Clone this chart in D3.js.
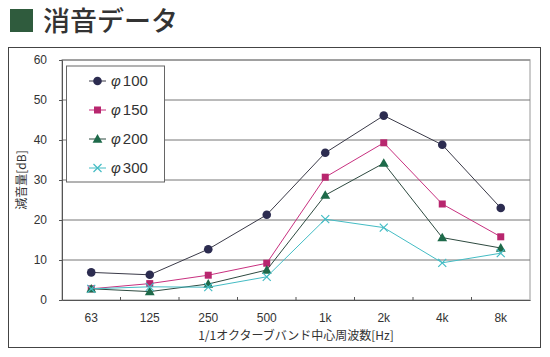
<!DOCTYPE html>
<html><head><meta charset="utf-8">
<script src="https://cdn.jsdelivr.net/npm/d3@7"></script>
<style>body{margin:0;background:#fff;}svg{display:block;font-family:"Liberation Sans",Arial,"Noto Sans CJK JP",sans-serif;}</style>
</head><body><svg id="c" width="550" height="357"></svg>
<script>
const categories = ["63","125","250","500","1k","2k","4k","8k"];
const seriesNames = ["φ100","φ150","φ200","φ300"];
const phi100 = [6.9, 6.3, 12.7, 21.3, 36.8, 46.1, 38.8, 23.0];
const phi150 = [2.8, 4.1, 6.2, 9.2, 30.7, 39.3, 24.0, 15.8];
const phi200 = [2.8, 2.1, 4.0, 7.5, 26.2, 34.2, 15.6, 13.0];
const phi300 = [2.8, 3.3, 3.2, 5.8, 20.2, 18.1, 9.3, 11.7];
const yTicks = [0,10,20,30,40,50,60];
const titleText = "消音データ";
const yTitle = "減音量[dB]";
const xTitle = "1/1オクターブバンド中心周波数[Hz]";

const svg = d3.select("#c");
const L=62, R=530, T=60, B=300;
const x = d3.scaleBand().domain(categories).range([L,R]);
const y = d3.scaleLinear().domain([0,60]).range([B,T]);

// title
svg.append("rect").attr("x",10).attr("y",9).attr("width",23).attr("height",23).attr("fill","#2f5b3d");
svg.append("text").attr("x",43).attr("y",31).attr("font-size",27).attr("font-weight",500).attr("fill","#333")
  .attr("font-family","'Noto Sans CJK JP',sans-serif").text(titleText);

// outer frame
svg.append("rect").attr("x",8.5).attr("y",47.5).attr("width",532).attr("height",300)
  .attr("fill","#fff").attr("stroke","#444").attr("stroke-width",1);

// plot area border
svg.append("rect").attr("x",L).attr("y",T).attr("width",R-L).attr("height",B-T)
  .attr("fill","#fff").attr("stroke","#bbb").attr("stroke-width",1.5);

// gridlines
svg.append("g").selectAll("line").data(yTicks.filter(d=>d>0)).join("line")
  .attr("x1",L).attr("x2",R).attr("y1",d=>y(d)).attr("y2",d=>y(d))
  .attr("stroke","#777").attr("stroke-width",1);

// y axis
const ya = svg.append("g").attr("transform",`translate(${L},0)`)
  .call(d3.axisLeft(y).tickValues(yTicks).tickSize(3).tickPadding(12));
ya.select(".domain").attr("stroke","#555");
ya.selectAll(".tick line").attr("stroke","#555");
ya.selectAll("text").attr("font-size",12).attr("fill","#333");

// x axis
const xa = svg.append("g").attr("transform",`translate(0,${B})`)
  .call(d3.axisBottom(x).tickSize(0).tickPadding(13));
xa.select(".domain").attr("stroke","#555");
xa.selectAll("text").attr("font-size",12).attr("fill","#333");
// boundary ticks (inside)
svg.append("g").selectAll("line").data(categories.slice(1)).join("line")
  .attr("x1",d=>x(d)).attr("x2",d=>x(d)).attr("y1",B).attr("y2",B-3)
  .attr("stroke","#555");

// axis titles
svg.append("text").attr("x",296).attr("y",340).attr("text-anchor","middle")
  .attr("font-size",12).attr("fill","#333")
  .attr("font-family","'Noto Sans CJK JP',sans-serif").text(xTitle);
svg.append("text").attr("transform","translate(26,180) rotate(-90)").attr("text-anchor","middle")
  .attr("font-size",12).attr("fill","#333")
  .attr("font-family","'Noto Sans CJK JP',sans-serif").text(yTitle);

const series = [
  {name:seriesNames[0], vals:phi100, line:"#3a3a48", fill:"#2c2c50", shape:"circle"},
  {name:seriesNames[1], vals:phi150, line:"#c8307f", fill:"#b8266e", shape:"square"},
  {name:seriesNames[2], vals:phi200, line:"#2e4a40", fill:"#1e6a4a", shape:"triangle"},
  {name:seriesNames[3], vals:phi300, line:"#44bcc4", fill:"#44bcc4", shape:"x"}
];
const cx = c => x(c)+x.bandwidth()/2;
function marker(g, s, px, py){
  if(s.shape==="circle") g.append("circle").attr("cx",px).attr("cy",py).attr("r",4.3).attr("fill",s.fill);
  else if(s.shape==="square") g.append("rect").attr("x",px-3.5).attr("y",py-3.5).attr("width",7).attr("height",7).attr("fill",s.fill);
  else if(s.shape==="triangle") g.append("path").attr("d",d3.symbol(d3.symbolTriangle,42)()).attr("transform",`translate(${px},${py+0.8})`).attr("fill",s.fill);
  else g.append("path").attr("d",`M${px-4},${py-4}L${px+4},${py+4}M${px-4},${py+4}L${px+4},${py-4}`).attr("stroke",s.fill).attr("stroke-width",1.2);
}
const line = d3.line().x((d,i)=>cx(categories[i])).y(d=>y(d));
series.forEach(s=>{
  const g = svg.append("g");
  g.append("path").attr("d",line(s.vals)).attr("fill","none").attr("stroke",s.line).attr("stroke-width",1);
  s.vals.forEach((v,i)=>marker(g,s,cx(categories[i]),y(v)));
});

// legend
svg.append("rect").attr("x",66.5).attr("y",66).attr("width",98).attr("height",116)
  .attr("fill","#fff").attr("stroke","#666").attr("stroke-width",1);
series.forEach((s,i)=>{
  const ly = 81 + i*29;
  const g = svg.append("g");
  g.append("line").attr("x1",89).attr("x2",106).attr("y1",ly).attr("y2",ly).attr("stroke",s.line).attr("stroke-width",1);
  marker(g,s,97.5,ly);
  g.append("text").attr("x",111).attr("y",ly+5).attr("font-size",15).attr("fill","#333")
    .html(`<tspan font-style="italic">φ</tspan><tspan dx="2">${s.name.slice(1)}</tspan>`);
});
</script></body></html>
